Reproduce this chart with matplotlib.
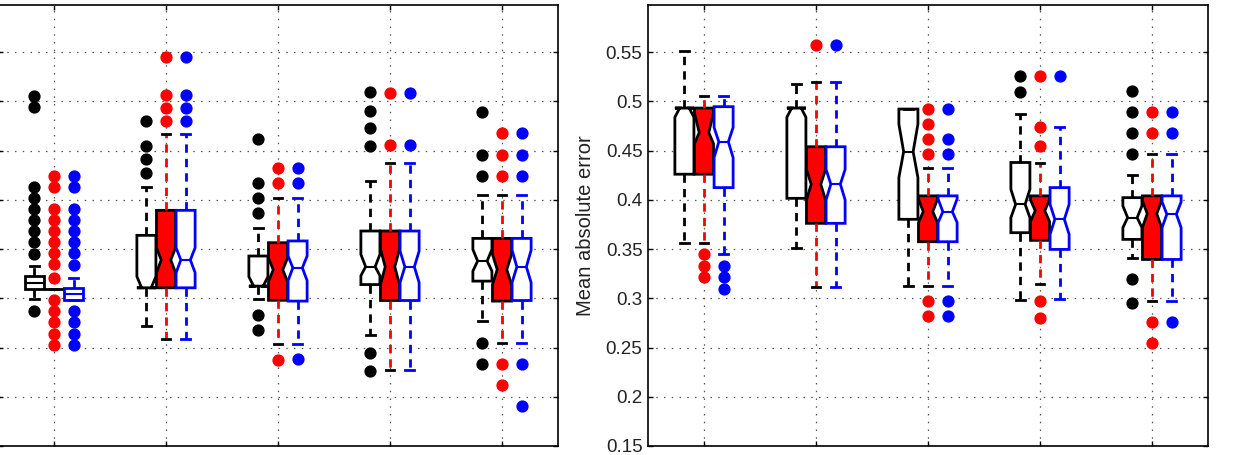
import matplotlib
matplotlib.use("Agg")
import matplotlib.pyplot as plt

plt.rcParams['font.family'] = ['Liberation Sans', 'DejaVu Sans']

# ---------------- data ----------------
GROUPS = [1, 2, 3, 4, 5]
Y_TICKS = [0.15, 0.2, 0.25, 0.3, 0.35, 0.4, 0.45, 0.5, 0.55]
Y_TICK_LABELS = ['0.15', '0.2', '0.25', '0.3', '0.35', '0.4', '0.45', '0.5', '0.55']
Y_LABEL_RIGHT = 'Mean absolute error'

# Left panel, black series
L_BLACK_Q1 = [0.3095, 0.3107, 0.3124, 0.3140, 0.3175]
L_BLACK_MED = [0.3160, 0.3107, 0.3124, 0.3321, 0.3379]
L_BLACK_Q3 = [0.3226, 0.3640, 0.3430, 0.3684, 0.3609]
L_BLACK_CILO = [None, 0.3107, 0.3124, 0.3230, 0.3277]
L_BLACK_CIHI = [None, 0.3222, 0.3220, 0.3446, 0.3497]
L_BLACK_LO = [0.2995, 0.2723, 0.2995, 0.2632, 0.2768]
L_BLACK_HI = [0.3325, 0.4130, 0.3710, 0.4193, 0.4047]
L_BLACK_FLIERS = [
    [0.506, 0.494, 0.4135, 0.4023, 0.3908, 0.3796, 0.3684, 0.3572, 0.3446, 0.287],
    [0.4805, 0.4543, 0.4413, 0.4278],
    [0.4620, 0.4176, 0.4023, 0.3871, 0.2835, 0.2682],
    [0.5093, 0.4906, 0.4726, 0.4550, 0.2445, 0.2265],
    [0.4889, 0.4458, 0.4244, 0.2547, 0.2333],
]

# Left panel, red series
L_RED_Q1 = [0.3100, 0.3107, 0.2980, 0.2978, 0.2972]
L_RED_MED = [0.3100, 0.3390, 0.3290, 0.3320, 0.3293]
L_RED_Q3 = [0.3100, 0.3894, 0.3565, 0.3684, 0.3609]
L_RED_CILO = [None, 0.3260, 0.3170, 0.3140, 0.3140]
L_RED_CIHI = [None, 0.3514, 0.3410, 0.3500, 0.3446]
L_RED_LO = [0.3100, 0.2591, 0.2537, 0.2275, 0.2547]
L_RED_HI = [0.3100, 0.4668, 0.4023, 0.4380, 0.4047]
L_RED_FLIERS = [
    [0.4244, 0.4132, 0.3908, 0.3796, 0.3684, 0.3572, 0.3456, 0.3344, 0.3209,
     0.2988, 0.2870, 0.2758, 0.2642, 0.2523],
    [0.5450, 0.5070, 0.4933, 0.4805],
    [0.4329, 0.4176, 0.2377],
    [0.5083, 0.4556],
    [0.4675, 0.4458, 0.4244, 0.2333, 0.2116],
]

# Left panel, blue series
L_BLUE_Q1 = [0.2985, 0.3107, 0.2972, 0.2978, 0.2978]
L_BLUE_MED = [0.3040, 0.3390, 0.3310, 0.3320, 0.3320]
L_BLUE_Q3 = [0.3107, 0.3894, 0.3583, 0.3684, 0.3609]
L_BLUE_CILO = [None, 0.3260, 0.3180, 0.3160, 0.3160]
L_BLUE_CIHI = [None, 0.3514, 0.3430, 0.3480, 0.3490]
L_BLUE_LO = [0.2985, 0.2591, 0.2537, 0.2275, 0.2547]
L_BLUE_HI = [0.3210, 0.4668, 0.4023, 0.4380, 0.4047]
L_BLUE_FLIERS = [
    [0.4244, 0.4132, 0.3908, 0.3796, 0.3684, 0.3572, 0.3456, 0.3334,
     0.2870, 0.2758, 0.2642, 0.2523],
    [0.5450, 0.5070, 0.4933, 0.4805],
    [0.4329, 0.4176, 0.2384],
    [0.5083, 0.4556],
    [0.4675, 0.4458, 0.4244, 0.2333, 0.1910],
]

# Right panel, black series
R_BLACK_Q1 = [0.4261, 0.4016, 0.3803, 0.3667, 0.3599]
R_BLACK_MED = [0.4933, 0.4933, 0.4490, 0.3955, 0.3820]
R_BLACK_Q3 = [0.4933, 0.4933, 0.4923, 0.4380, 0.4023]
R_BLACK_CILO = [0.4840, 0.4840, 0.4227, 0.3820, 0.3718]
R_BLACK_CIHI = [0.4933, 0.4933, 0.4770, 0.4108, 0.3939]
R_BLACK_LO = [0.3565, 0.3507, 0.3125, 0.2988, 0.3412]
R_BLACK_HI = [0.5510, 0.5177, 0.4923, 0.4872, 0.4255]
R_BLACK_FLIERS = [
    [],
    [],
    [],
    [0.5263, 0.5093],
    [0.5110, 0.4889, 0.4675, 0.4464, 0.3192, 0.2954],
]

# Right panel, red series
R_RED_Q1 = [0.4261, 0.3762, 0.3575, 0.3589, 0.3395]
R_RED_MED = [0.4685, 0.4159, 0.3880, 0.3890, 0.3860]
R_RED_Q3 = [0.4933, 0.4540, 0.4041, 0.4041, 0.4041]
R_RED_CILO = [0.4570, 0.4000, 0.3770, 0.3780, 0.3720]
R_RED_CIHI = [0.4880, 0.4310, 0.4010, 0.4000, 0.3990]
R_RED_LO = [0.3565, 0.3114, 0.3124, 0.3148, 0.2972]
R_RED_HI = [0.5059, 0.5194, 0.4329, 0.4380, 0.4464]
R_RED_FLIERS = [
    [0.3446, 0.3328, 0.3216],
    [0.5578],
    [0.4923, 0.4770, 0.4617, 0.4464, 0.2972, 0.2819],
    [0.5263, 0.4736, 0.4550, 0.2972, 0.2801],
    [0.4889, 0.4675, 0.2758, 0.2547],
]

# Right panel, blue series
R_BLUE_Q1 = [0.4125, 0.3762, 0.3575, 0.3497, 0.3395]
R_BLUE_MED = [0.4590, 0.4160, 0.3880, 0.3803, 0.3855]
R_BLUE_Q3 = [0.4947, 0.4540, 0.4041, 0.4125, 0.4041]
R_BLUE_CILO = [0.4430, 0.4000, 0.3770, 0.3650, 0.3718]
R_BLUE_CIHI = [0.4736, 0.4310, 0.4010, 0.3955, 0.3980]
R_BLUE_LO = [0.3446, 0.3114, 0.3124, 0.2998, 0.2972]
R_BLUE_HI = [0.5059, 0.5194, 0.4329, 0.4736, 0.4464]
R_BLUE_FLIERS = [
    [0.3328, 0.3216, 0.3100],
    [0.5578],
    [0.4923, 0.4617, 0.4464, 0.2972, 0.2819],
    [0.5263],
    [0.4889, 0.4675, 0.2758],
]

# ---------------- style ----------------
BOX_W = 0.17
CAP_W = 0.08
OFFSETS = {'black': -0.175, 'red': 0.0, 'blue': 0.175}
STYLES = {
    'black': dict(face='white', edge='black', line='black', cap='black', med='black'),
    'red': dict(face='#ff0000', edge='black', line='#ff0000', cap='black', med=None),
    'blue': dict(face='white', edge='#0000ff', line='#0000ff', cap='#0000ff', med='#0000ff'),
}
LW = 2.0
DASH = (0, (3, 2.2))


def draw_series(ax, key, q1, med, q3, cilo, cihi, lo, hi, fliers):
    s = STYLES[key]
    for i, g in enumerate(GROUPS):
        st = dict(q1=q1[i], med=med[i], q3=q3[i], whislo=lo[i], whishi=hi[i],
                  fliers=fliers[i])
        notch = cilo[i] is not None
        if notch:
            st['cilo'] = cilo[i]
            st['cihi'] = cihi[i]
        if s['med'] is None:
            medprops = dict(visible=False)
        else:
            medprops = dict(color=s['med'], linewidth=1.5)
        ax.bxp([st], positions=[g + OFFSETS[key]], widths=[BOX_W],
               capwidths=[CAP_W], shownotches=notch, patch_artist=True,
               manage_ticks=False,
               boxprops=dict(facecolor=s['face'], edgecolor=s['edge'], linewidth=LW),
               whiskerprops=dict(color=s['line'], linestyle=DASH, linewidth=LW),
               capprops=dict(color=s['cap'], linewidth=LW),
               medianprops=medprops,
               flierprops=dict(marker='o', markerfacecolor=s['line'],
                               markeredgecolor=s['line'], markersize=7.8,
                               linestyle='none'))


def style_axes(ax, show_ylabels):
    ax.set_xlim(0.5, 5.5)
    ax.set_ylim(0.15, 0.598)
    ax.set_xticks(GROUPS)
    ax.set_xticklabels([])
    ax.set_yticks(Y_TICKS)
    if show_ylabels:
        ax.set_yticklabels(Y_TICK_LABELS, fontsize=13.5, color='#222222')
    else:
        ax.set_yticklabels([])
    ax.tick_params(direction='in', length=3.6, width=1.0, top=True, right=True,
                   pad=4)
    ax.set_axisbelow(True)
    ax.grid(True, linestyle=(0, (1.2, 5)), linewidth=0.9, color='#555555')
    for sp in ax.spines.values():
        sp.set_linewidth(1.2)
        sp.set_color('black')


fig = plt.figure(figsize=(12.33, 4.55), dpi=100)
W, H = 1233.0, 455.0
TOP_PX, BOT_PX = 5, 446
ax_l = fig.add_axes([-2 / W, (H - BOT_PX) / H, 560 / W, (BOT_PX - TOP_PX) / H])
ax_r = fig.add_axes([648 / W, (H - BOT_PX) / H, 560 / W, (BOT_PX - TOP_PX) / H])

draw_series(ax_l, 'black', L_BLACK_Q1, L_BLACK_MED, L_BLACK_Q3, L_BLACK_CILO,
            L_BLACK_CIHI, L_BLACK_LO, L_BLACK_HI, L_BLACK_FLIERS)
draw_series(ax_l, 'red', L_RED_Q1, L_RED_MED, L_RED_Q3, L_RED_CILO,
            L_RED_CIHI, L_RED_LO, L_RED_HI, L_RED_FLIERS)
draw_series(ax_l, 'blue', L_BLUE_Q1, L_BLUE_MED, L_BLUE_Q3, L_BLUE_CILO,
            L_BLUE_CIHI, L_BLUE_LO, L_BLUE_HI, L_BLUE_FLIERS)

draw_series(ax_r, 'black', R_BLACK_Q1, R_BLACK_MED, R_BLACK_Q3, R_BLACK_CILO,
            R_BLACK_CIHI, R_BLACK_LO, R_BLACK_HI, R_BLACK_FLIERS)
draw_series(ax_r, 'red', R_RED_Q1, R_RED_MED, R_RED_Q3, R_RED_CILO,
            R_RED_CIHI, R_RED_LO, R_RED_HI, R_RED_FLIERS)
draw_series(ax_r, 'blue', R_BLUE_Q1, R_BLUE_MED, R_BLUE_Q3, R_BLUE_CILO,
            R_BLUE_CIHI, R_BLUE_LO, R_BLUE_HI, R_BLUE_FLIERS)

style_axes(ax_l, False)
style_axes(ax_r, True)
ax_r.set_ylabel(Y_LABEL_RIGHT, fontsize=14.5, color='#222222')
ax_r.yaxis.set_label_coords(-0.094, 0.5)

fig.savefig('out.png', dpi=100)
